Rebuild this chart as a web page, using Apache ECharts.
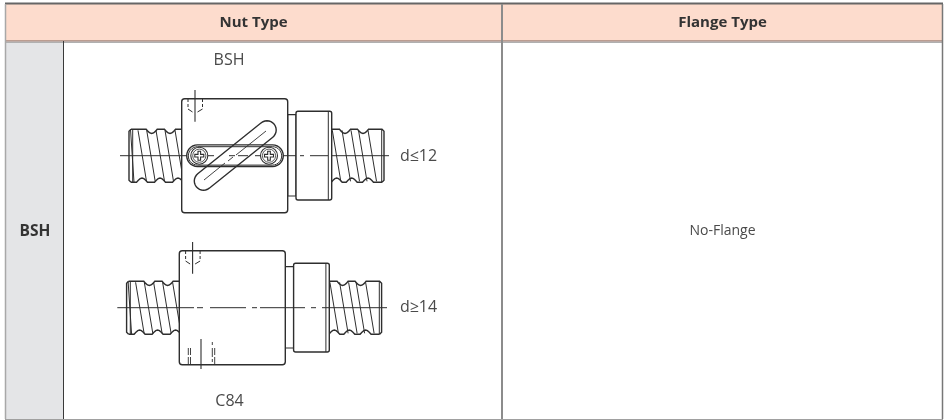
<!DOCTYPE html>
<html><head><meta charset="utf-8">
<style>html,body{margin:0;padding:0;background:#fff}#c{width:944px;height:420px}</style>
<script src="https://cdn.jsdelivr.net/npm/echarts@6/dist/echarts.min.js"></script>
</head><body><div id="c"></div>
<script>
const columnHeaders = ['Nut Type', 'Flange Type'];
const rowLabels = ['BSH'];
const nutModelLabels = ['BSH', 'C84'];
const diameterLabels = ['d≤12', 'd≥14'];
const flangeCells = ['No-Flange'];

const FONT = '"Open Sans","Noto Sans",sans-serif';
const INK = '#2e2e2e';
const TEXT = '#4a4a4a';
let els = [];
const line = (pts, w, dash, color) => els.push({type:'polyline', silent:true, shape:{points:pts}, style:{stroke:color||INK, lineWidth:w||1, fill:null, lineDash:dash||null}});
const poly = (pts, fill, w) => els.push({type:'polygon', silent:true, shape:{points:pts}, style:{fill:fill||'#fff', stroke:INK, lineWidth:w||1}});
const rect = (x,y,w,h,fill,r,stroke,lw) => els.push({type:'rect', silent:true, shape:{x,y,width:w,height:h,r:r||0}, style:{fill:fill||'#fff', stroke:stroke||null, lineWidth:lw||1}});
const text = (s,x,y,size,weight,color) => els.push({type:'text', silent:true, x, y, style:{text:s, x:0, y:0, align:'center', verticalAlign:'middle', font:(weight||'400')+' '+size+'px '+FONT, fill:color||TEXT}});
const circle = (x,y,r,w) => els.push({type:'circle',silent:true,shape:{cx:x,cy:y,r},style:{fill:'#fff',stroke:INK,lineWidth:w||1}});

// table
rect(5,4,938,37,'#fddccd');
rect(6,42,57,377,'#e4e5e7');
line([[5,3.5],[943,3.5]],2,null,'#666');
line([[5,41],[943,41]],1.2,null,'#7a5c54');
line([[5,42.5],[943,42.5]],1,null,'#b0b0b0');
line([[5.5,4],[5.5,419]],1.5,null,'#a8a8a8');
line([[942.5,4],[942.5,419]],1.5,null,'#777');
line([[63.5,41],[63.5,419]],1,null,'#3a3a3a');
line([[502,4],[502,419]],2,null,'#8c8c8c');
line([[5,419.5],[943,419.5]],1,null,'#a0a0a0');
text(columnHeaders[0],253.5,23,15,'700','#333');
text(columnHeaders[1],722.5,23,15,'700','#333');
text(rowLabels[0],35,232,15.5,'700','#333');
text(flangeCells[0],722.5,231,14);
text(nutModelLabels[0],229,60.5,16);
text(nutModelLabels[1],229.5,401.5,16);
text(diameterLabels[0],418.5,156.5,16);
text(diameterLabels[1],418.5,307.5,16);

// top/bottom shaft edge with rounded thread grooves
function edge(x0, x1, y, dir, dips){
  const pts=[[x0,y]], hw=5.5;
  dips.forEach(c=>{
    pts.push([c-hw,y]);
    for(let k=1;k<6;k++){const t=k/6; pts.push([c-hw+2*hw*t, y+dir*4.2*Math.sin(Math.PI*t)]);}
    pts.push([c+hw,y]);
  });
  pts.push([x1,y]);
  return pts;
}
const T=129.3, B=182.3, W=1.4;
function screwAssembly(dx, dy){
  const holder=els; els=[];
  // left thread
  line(edge(131,182,T,1,[151.7,170]),W);
  line(edge(131,182,B,-1,[142,160,178]),W);
  line([[131,B],[129,B-2],[129,T+2],[131,T]],W);
  line([[132.7,T],[132.7,B]],1);
  line([[130.5,T],[134,B]],1);
  [138,146.7,156,165,175].forEach(x=>line([[x,T+1],[x+8.5,B-1]],1));
  // right thread
  line(edge(331,382,T,1,[345,363]).concat([[384,T+2],[384,B-2],[382,B]]),W);
  line(edge(331,382,B,-1,[336.7,351.7,368]),W);
  line([[381.7,T],[381.7,B]],1);
  [332.3,342,351,358.5,368].forEach(x=>line([[x,T+1],[x+8.5,B-1]],1));
  // neck & flange
  rect(287.7,114.7,8.3,81.3,'#fff',0,INK,1.2);
  rect(296,111.3,35.7,88.7,'#fff',2,INK,W);
  line([[328.3,111.5],[328.3,200]],1);
  // body
  rect(181.7,98.7,106,114,'#fff',3,INK,W);
  // top view mark
  line([[195,90],[195,121.7]],1.1);
  line([[188,99],[188,108]],1,[3,2]);
  line([[202.5,99],[202.5,108]],1,[3,2]);
  line([[188,109],[192.5,112]],1);
  line([[202.5,109],[197.5,112]],1);
  const kids=els; els=holder;
  els.push({type:'group',x:dx,y:dy,children:kids});
}
screwAssembly(0,0);
screwAssembly(-2.4,152);

// return tube (d<=12)
function stadium(x1,y1,x2,y2,r,w,fill){
  const a=Math.atan2(y2-y1,x2-x1), pts=[];
  for(let k=0;k<=14;k++){const th=a+Math.PI/2-Math.PI*k/14; pts.push([x2+r*Math.cos(th),y2+r*Math.sin(th)]);}
  for(let k=0;k<=14;k++){const th=a-Math.PI/2-Math.PI*k/14; pts.push([x1+r*Math.cos(th),y1+r*Math.sin(th)]);}
  poly(pts,fill,w);
}
stadium(197.5,155.7,272.5,155.7,10.8,1.4,'#fff');
stadium(197.5,155.9,272.5,155.9,9.2,1,'#fff');
stadium(203.5,181,267,130,9.2,W,'rgba(255,255,255,0)');
// centre lines inside and around the tube
const cy1=155.7, cy2=307.7;
[[120,186],[208,214],[229,235],[238,248],[255,260],[283,296],[300,304],[310,328],[332,389]].forEach(([a,b])=>line([[a,cy1],[b,cy1]],1));
line([[204,180],[225,163]],0.9);
line([[228,161],[233,157]],0.9);
line([[236,155],[266,131]],0.9);
[[199.3,155.7],[269,155.7]].forEach(([x,y])=>{
  circle(x,y,8.5,1.1);
  circle(x,y,6.6,0.8);
  const o=4.5,i=1.3;
  poly([[x-o,y-i],[x-i,y-i],[x-i,y-o],[x+i,y-o],[x+i,y-i],[x+o,y-i],[x+o,y+i],[x+i,y+i],[x+i,y+o],[x-i,y+o],[x-i,y+i],[x-o,y+i]],'#fff',1.1);
});
// d>=14 centre line
[[117.3,194],[197,203],[210,246],[252,257],[260,305],[311,316],[322,387]].forEach(([a,b])=>line([[a,cy2],[b,cy2]],1));
// lower hidden marks (d>=14)
line([[201,339],[201,369]],1.1);
line([[188.3,348],[188.3,365]],0.9,[7,2]);
line([[190.5,348],[190.5,365]],0.9,[7,2]);
line([[212.3,342],[212.3,365]],0.9,[3,3,9,2]);
line([[214.7,348],[214.7,365]],0.9,[7,2]);

const chart=echarts.init(document.getElementById('c'),null,{renderer:'canvas'});
chart.setOption({animation:false,backgroundColor:'#fff',graphic:{elements:els}});
</script></body></html>
